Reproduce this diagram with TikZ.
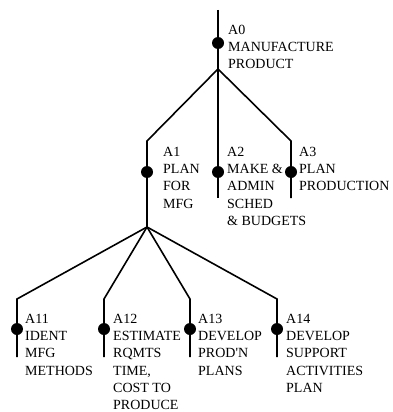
\documentclass[tikz,border=0pt]{standalone}
\usepackage{fontspec}
\setmainfont{Liberation Serif}
\begin{document}
\begin{tikzpicture}[x=1pt,y=-1pt,
  conn/.style={line width=1.6pt},
  dot/.style={circle,fill=black,inner sep=0pt,minimum size=12pt},
  lbl/.style={anchor=north west,inner sep=0pt,align=left,font=\fontsize{14}{17.2}\selectfont}]
\useasboundingbox (0,0) rectangle (392,412);
% coordinates
\coordinate (top) at (218,10);
\coordinate (j0) at (218,69);
\coordinate (c1) at (147,141);
\coordinate (c3) at (291,141);
\coordinate (j1) at (147,227);
\coordinate (e2) at (218,198);
\coordinate (e3) at (291,198);
\coordinate (c11) at (17,299);
\coordinate (c12) at (104,299);
\coordinate (c13) at (190,299);
\coordinate (c14) at (277,299);
\coordinate (e11) at (17,357);
\coordinate (e12) at (104,357);
\coordinate (e13) at (190,357);
\coordinate (e14) at (277,357);
% dots
\node[dot] (d0) at (218,43) {};
\node[dot] (d1) at (147,172) {};
\node[dot] (d2) at (218,172) {};
\node[dot] (d3) at (291,172) {};
\node[dot] (d11) at (17,329) {};
\node[dot] (d12) at (104,329) {};
\node[dot] (d13) at (190,329) {};
\node[dot] (d14) at (277,329) {};
% connectors
\draw[conn] (top) -- (d0.center) -- (j0);
\draw[conn] (j0) -- (c1) -- (d1.center) -- (j1);
\draw[conn] (j0) -- (d2.center) -- (e2);
\draw[conn] (j0) -- (c3) -- (d3.center) -- (e3);
\draw[conn] (j1) -- (c11) -- (d11.center) -- (e11);
\draw[conn] (j1) -- (c12) -- (d12.center) -- (e12);
\draw[conn] (j1) -- (c13) -- (d13.center) -- (e13);
\draw[conn] (j1) -- (c14) -- (d14.center) -- (e14);
% labels
\node[lbl] (t0) at (228,25) {A0\\MANUFACTURE\\PRODUCT};
\node[lbl] (t1) at (163,147) {A1\\PLAN\\FOR\\MFG};
\node[lbl] (t2) at (227,147) {A2\\MAKE \&\\ADMIN\\SCHED\\\& BUDGETS};
\node[lbl] (t3) at (299,147) {A3\\PLAN\\PRODUCTION};
\node[lbl] (t11) at (25,314) {A11\\IDENT\\MFG\\METHODS};
\node[lbl] (t12) at (113,314) {A12\\ESTIMATE\\RQMTS\\TIME,\\COST TO\\PRODUCE};
\node[lbl] (t13) at (198,314) {A13\\DEVELOP\\PROD\textquotesingle N\\PLANS};
\node[lbl] (t14) at (286,314) {A14\\DEVELOP\\SUPPORT\\ACTIVITIES\\PLAN};
\end{tikzpicture}
\end{document}
